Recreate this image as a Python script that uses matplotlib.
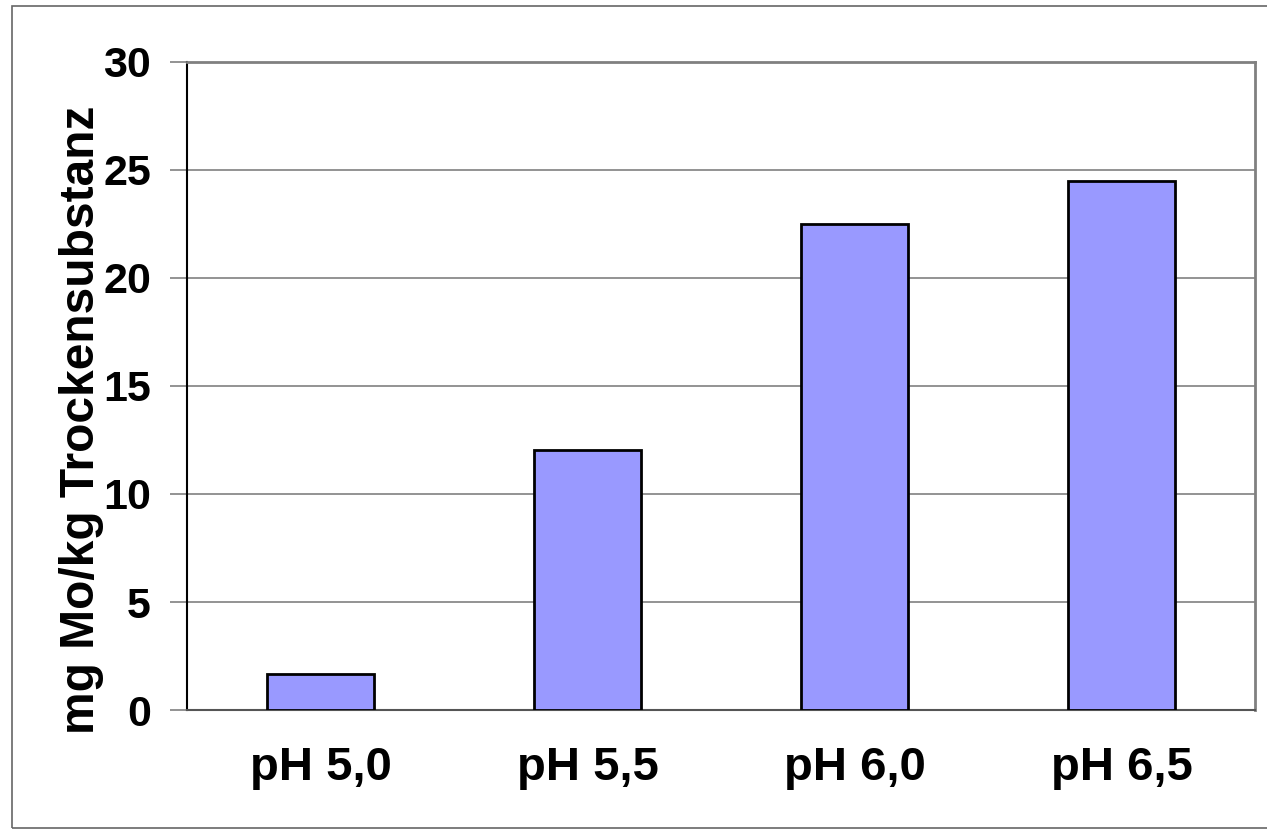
import matplotlib.pyplot as plt

categories = ['pH 5,0', 'pH 5,5', 'pH 6,0', 'pH 6,5']
mo_values = [1.65, 12.05, 22.5, 24.5]
y_ticks = [0, 5, 10, 15, 20, 25, 30]

plt.rcParams['font.family'] = ['Liberation Sans', 'DejaVu Sans']
plt.rcParams['font.weight'] = 'bold'

fig = plt.figure(figsize=(12.67, 8.33), dpi=100)
ax = fig.add_axes([187 / 1267, 1 - 710 / 833, 1068 / 1267, 648 / 833])

# grey frame round the whole picture
fig.patches.append(plt.Rectangle((12 / 1267, 1 - 828 / 833), 1.2, 822 / 833,
                                 transform=fig.transFigure, fill=False,
                                 edgecolor='#666666', linewidth=1.2))

ax.bar(range(len(categories)), mo_values, width=0.4, color='#9999ff',
       edgecolor='black', linewidth=2, zorder=3)

ax.set_xlim(-0.5, 3.5)
ax.set_ylim(0, 30)
ax.set_yticks(y_ticks)
ax.set_xticks(range(len(categories)))
ax.set_xticklabels(categories, fontsize=34, fontweight='bold')
ax.tick_params(axis='x', length=0, pad=26)
ax.tick_params(axis='y', length=12, width=1.2, color='#808080', labelsize=31, pad=14)
for lbl in ax.get_yticklabels():
    lbl.set_fontweight('bold')

ax.grid(axis='y', color='#808080', linewidth=1.2, zorder=0)
ax.set_ylabel('mg Mo/kg Trockensubstanz', fontsize=34.5, fontweight='bold')
ax.yaxis.set_label_coords(-0.078, 0.4475)

ax.spines['left'].set_color('black')
ax.spines['left'].set_linewidth(1.5)
ax.spines['bottom'].set_color('#555555')
ax.spines['bottom'].set_linewidth(1.5)
ax.spines['top'].set_color('#808080')
ax.spines['top'].set_linewidth(2)
ax.spines['right'].set_color('#808080')
ax.spines['right'].set_linewidth(2)

fig.savefig('out.png', dpi=100)
